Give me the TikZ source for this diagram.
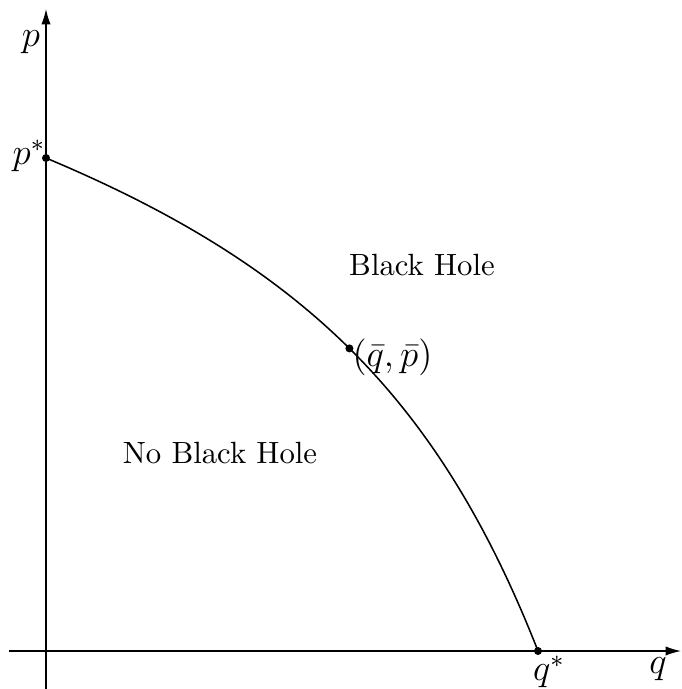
\documentclass[tikz,border=0pt]{standalone}
\usetikzlibrary{arrows.meta}
\begin{document}
\begin{tikzpicture}[x=0.3254pt,y=-0.3254pt,
  axis/.style={line width=0.4pt,-{Latex[length=5pt,width=3pt]}},
  curve/.style={line width=0.5pt},
  dot/.style={circle,fill,inner sep=0pt,minimum size=2.6pt},
  mlbl/.style={font=\large}]
\useasboundingbox (0,0) rectangle (681,689);
\coordinate (xs) at (9,651);
\coordinate (xe) at (681,651);
\coordinate (ys) at (46,689);
\coordinate (ye) at (46,9);
\draw[axis] (xs) -- (xe);
\draw[axis] (ys) -- (ye);
\node[dot] (pstar) at (46,158) {};
\node[dot] (qstar) at (538,651) {};
\draw[curve] (pstar.center) .. controls (299.5,264.4) and (437.6,395) .. (qstar.center)
  node[dot,pos=0.5] (bar) {};
\node[mlbl,anchor=west,inner sep=0pt] (barlbl) at (352,357) {$(\bar q,\bar p)$};
\node[mlbl] (plbl) at (31,42) {$p$};
\node[mlbl] (qlbl) at (658,669) {$q$};
\node[mlbl] (pslbl) at (29,156) {$p^*$};
\node[mlbl] (qslbl) at (549,672) {$q^*$};
\node (bh) at (422,265) {Black Hole};
\node (nbh) at (220,453) {No Black Hole};
\end{tikzpicture}
\end{document}
